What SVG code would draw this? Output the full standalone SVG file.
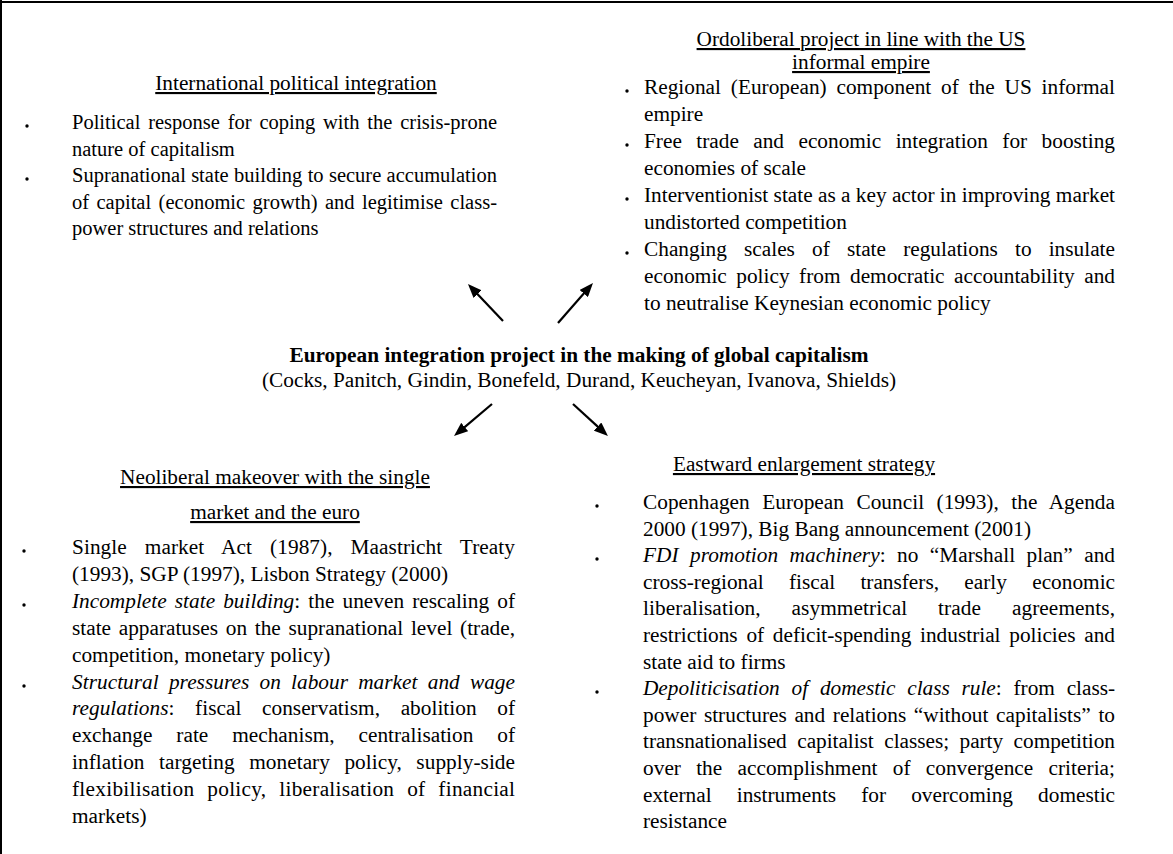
<svg xmlns="http://www.w3.org/2000/svg" width="1173" height="854" viewBox="0 0 1173 854">
<style>
.t{font-family:"Liberation Serif","Times New Roman",serif;font-size:21.3px;fill:#000}
.s{font-size:20.5px}
.h{text-anchor:middle;text-decoration:underline}
.c{text-anchor:middle}
.b{font-weight:bold}
.i{font-style:italic}
.dot{fill:#000}
.frame{stroke:#000;stroke-width:2;fill:none}
.arr{stroke:#000;stroke-width:2.2;fill:none;marker-end:url(#ah)}
</style>
<defs>
<marker id="ah" viewBox="0 0 14 11" refX="2" refY="5.5" markerWidth="14" markerHeight="11" markerUnits="userSpaceOnUse" orient="auto">
<path d="M0,0 L14,5.5 L0,11 z" fill="#000"/>
</marker>
</defs>
<rect width="1173" height="854" fill="#fff"/>
<path class="frame" d="M0,2 H1173 M1,0 V854"/>

<g id="center">
<text class="t b c" x="579" y="362">European integration project in the making of global capitalism</text>
<text class="t c" x="579" y="387">(Cocks, Panitch, Gindin, Bonefeld, Durand, Keucheyan, Ivanova, Shields)</text>
</g>

<g id="political-integration">
<text class="t h" x="296" y="90">International political integration</text>
<circle class="dot" cx="27" cy="126" r="1.7"/>
<circle class="dot" cx="27" cy="179" r="1.7"/>
<text class="t s" x="72" y="129" word-spacing="2.7" textLength="425" lengthAdjust="spacing">Political response for coping with the crisis-prone</text>
<text class="t s" x="72" y="155.5">nature of capitalism</text>
<text class="t s" x="72" y="182" word-spacing="0.2" textLength="425" lengthAdjust="spacing">Supranational state building to secure accumulation</text>
<text class="t s" x="72" y="208.5" word-spacing="2.3" textLength="425" lengthAdjust="spacing">of capital (economic growth) and legitimise class-</text>
<text class="t s" x="72" y="235">power structures and relations</text>
</g>

<g id="ordoliberal">
<text class="t h" x="861" y="46">Ordoliberal project in line with the US</text>
<text class="t h" x="861" y="69">informal empire</text>
<circle class="dot" cx="627" cy="91" r="1.7"/>
<circle class="dot" cx="627" cy="145" r="1.7"/>
<circle class="dot" cx="627" cy="199" r="1.7"/>
<circle class="dot" cx="627" cy="253" r="1.7"/>
<text class="t" x="644" y="94" word-spacing="4.5" textLength="471" lengthAdjust="spacing">Regional (European) component of the US informal</text>
<text class="t" x="644" y="121">empire</text>
<text class="t" x="644" y="148" word-spacing="9.1" textLength="471" lengthAdjust="spacing">Free trade and economic integration for boosting</text>
<text class="t" x="644" y="175">economies of scale</text>
<text class="t" x="644" y="202" textLength="471" lengthAdjust="spacing">Interventionist state as a key actor in improving market</text>
<text class="t" x="644" y="229">undistorted competition</text>
<text class="t" x="644" y="256" word-spacing="11.8" textLength="471" lengthAdjust="spacing">Changing scales of state regulations to insulate</text>
<text class="t" x="644" y="283" word-spacing="4.2" textLength="471" lengthAdjust="spacing">economic policy from democratic accountability and</text>
<text class="t" x="644" y="310">to neutralise Keynesian economic policy</text>
</g>

<g id="neoliberal">
<text class="t h" x="275" y="484">Neoliberal makeover with the single</text>
<text class="t h" x="275" y="519">market and the euro</text>
<circle class="dot" cx="24" cy="551" r="1.7"/>
<circle class="dot" cx="24" cy="605" r="1.7"/>
<circle class="dot" cx="24" cy="686" r="1.7"/>
<text class="t" x="72" y="554" word-spacing="12.6" textLength="443" lengthAdjust="spacing">Single market Act (1987), Maastricht Treaty</text>
<text class="t" x="72" y="581">(1993), SGP (1997), Lisbon Strategy (2000)</text>
<text class="t" x="72" y="608" word-spacing="2.8" textLength="443" lengthAdjust="spacing"><tspan class="i">Incomplete state building</tspan>: the uneven rescaling of</text>
<text class="t" x="72" y="635" word-spacing="2.4" textLength="443" lengthAdjust="spacing">state apparatuses on the supranational level (trade,</text>
<text class="t" x="72" y="662">competition, monetary policy)</text>
<text class="t i" x="72" y="689" word-spacing="4.8" textLength="443" lengthAdjust="spacing">Structural pressures on labour market and wage</text>
<text class="t" x="72" y="715" word-spacing="15.3" textLength="443" lengthAdjust="spacing"><tspan class="i">regulations</tspan>: fiscal conservatism, abolition of</text>
<text class="t" x="72" y="742" word-spacing="18.6" textLength="443" lengthAdjust="spacing">exchange rate mechanism, centralisation of</text>
<text class="t" x="72" y="769" word-spacing="9.1" textLength="443" lengthAdjust="spacing">inflation targeting monetary policy, supply-side</text>
<text class="t" x="72" y="796" word-spacing="7.3" textLength="443" lengthAdjust="spacing">flexibilisation policy, liberalisation of financial</text>
<text class="t" x="72" y="823">markets)</text>
</g>

<g id="eastward">
<text class="t h" x="804" y="471">Eastward enlargement strategy</text>
<circle class="dot" cx="597" cy="506" r="1.7"/>
<circle class="dot" cx="597" cy="559" r="1.7"/>
<circle class="dot" cx="597" cy="692" r="1.7"/>
<text class="t" x="643" y="509" word-spacing="7.1" textLength="472" lengthAdjust="spacing">Copenhagen European Council (1993), the Agenda</text>
<text class="t" x="643" y="535.6">2000 (1997), Big Bang announcement (2001)</text>
<text class="t" x="643" y="562.2" word-spacing="6.1" textLength="472" lengthAdjust="spacing"><tspan class="i">FDI promotion machinery</tspan>: no “Marshall plan” and</text>
<text class="t" x="643" y="588.8" word-spacing="20" textLength="472" lengthAdjust="spacing">cross-regional fiscal transfers, early economic</text>
<text class="t" x="643" y="615.4" word-spacing="25.4" textLength="472" lengthAdjust="spacing">liberalisation, asymmetrical trade agreements,</text>
<text class="t" x="643" y="642" word-spacing="3.4" textLength="472" lengthAdjust="spacing">restrictions of deficit-spending industrial policies and</text>
<text class="t" x="643" y="668.6">state aid to firms</text>
<text class="t" x="643" y="695.2" word-spacing="6.6" textLength="472" lengthAdjust="spacing"><tspan class="i">Depoliticisation of domestic class rule</tspan>: from class-</text>
<text class="t" x="643" y="721.8" word-spacing="2.3" textLength="472" lengthAdjust="spacing">power structures and relations “without capitalists” to</text>
<text class="t" x="643" y="748.4" word-spacing="5.2" textLength="472" lengthAdjust="spacing">transnationalised capitalist classes; party competition</text>
<text class="t" x="643" y="775" word-spacing="9.8" textLength="472" lengthAdjust="spacing">over the accomplishment of convergence criteria;</text>
<text class="t" x="643" y="801.6" word-spacing="19.8" textLength="472" lengthAdjust="spacing">external instruments for overcoming domestic</text>
<text class="t" x="643" y="828.2">resistance</text>
</g>

<g id="connectors">
<line class="arr" x1="503" y1="321" x2="476.2" y2="292.7"/>
<line class="arr" x1="558" y1="323" x2="585.1" y2="292"/>
<line class="arr" x1="492" y1="404" x2="463.2" y2="428.3"/>
<line class="arr" x1="573" y1="404" x2="599.1" y2="427.9"/>
</g>
</svg>
